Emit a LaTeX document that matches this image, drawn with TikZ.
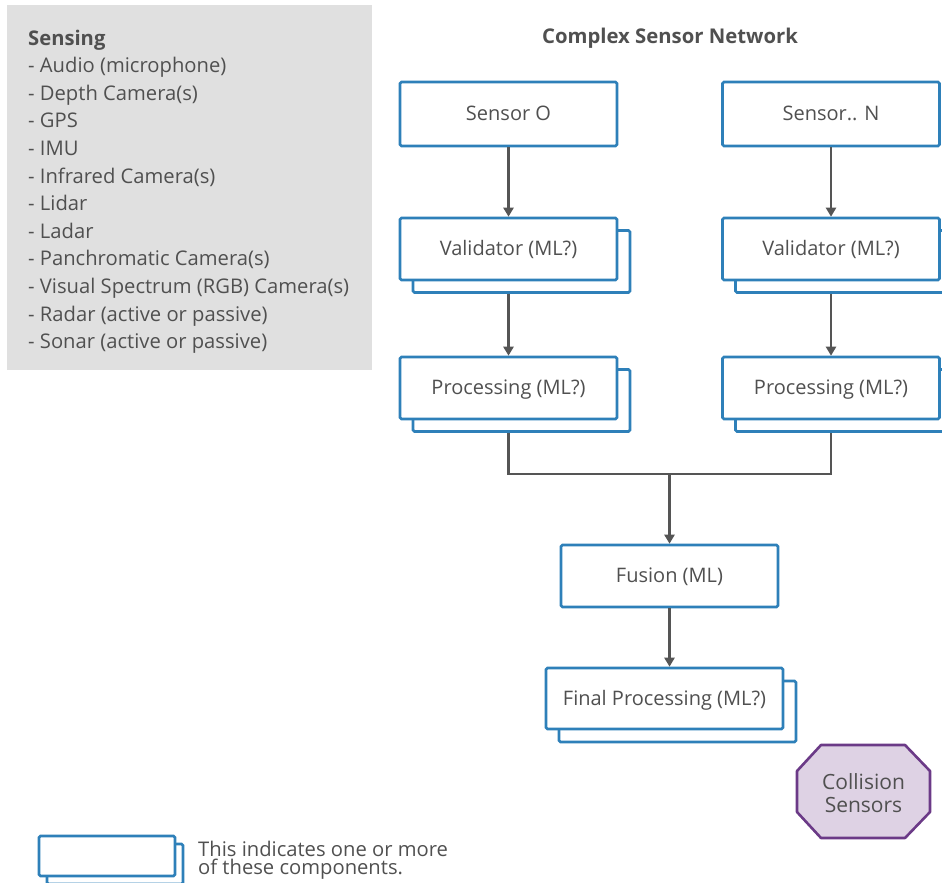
\documentclass[tikz,border=0pt]{standalone}
\usepackage{fontspec}
\setmainfont{Open Sans}
\usetikzlibrary{arrows.meta}

\definecolor{boxblue}{HTML}{2E80B9}
\definecolor{txtgray}{HTML}{505050}
\definecolor{linegray}{HTML}{555555}
\definecolor{panelgray}{HTML}{E0E0E0}
\definecolor{octfill}{HTML}{DED2E4}
\definecolor{octdraw}{HTML}{6B3A87}

\tikzset{
  comp/.style={draw=boxblue, line width=2.6pt, fill=white, rounded corners=1.5pt,
    inner sep=0pt, text=txtgray, font=\fontsize{20}{24}\selectfont,
    text height=16.5pt, text depth=3pt},
  wide/.style={minimum width=217pt, minimum height=62pt},
  conn/.style={draw=linegray, line width=2.3pt, -{Triangle[length=9pt,width=10pt]}},
  plain/.style={draw=linegray, line width=2.3pt},
}

\begin{document}
\begin{tikzpicture}[x=1pt,y=-1pt]
\useasboundingbox (0,0) rectangle (942,883);

% sensing panel
\node[fill=panelgray, minimum width=365pt, minimum height=365pt, inner sep=0pt] (panel) at (189.5,187.5) {};
\node[anchor=north west, inner sep=0pt, align=left, text=txtgray,
      font=\fontsize{20.2}{27.6}\selectfont] (sensing) at (28,29.5)
  {\textbf{Sensing}\\
   - Audio (microphone)\\
   - Depth Camera(s)\\
   - GPS\\
   - IMU\\
   - Infrared Camera(s)\\
   - Lidar\\
   - Ladar\\
   - Panchromatic Camera(s)\\
   - Visual Spectrum (RGB) Camera(s)\\
   - Radar (active or passive)\\
   - Sonar (active or passive)};

% title
\node[text=txtgray, font=\fontsize{20.3}{24}\selectfont\bfseries] (title) at (670,38.5) {Complex Sensor Network};

% sensors
\node[comp, wide, minimum height=64pt] (s0) at (508.5,114) {Sensor O};
\node[comp, wide, minimum height=64pt] (sn) at (831,114) {Sensor.. N};

% validators (stacked)
\node[comp, wide] (v0b) at (521.5,261.5) {};
\node[comp, wide] (v0) at (508.5,249) {Validator (ML?)};
\node[comp, wide] (vnb) at (844,261.5) {};
\node[comp, wide] (vn) at (831,249) {Validator (ML?)};

% processing (stacked)
\node[comp, wide] (p0b) at (521.5,400.5) {};
\node[comp, wide] (p0) at (508.5,388) {Processing (ML?)};
\node[comp, wide] (pnb) at (844,400.5) {};
\node[comp, wide] (pn) at (831,388) {Processing (ML?)};

% fusion
\node[comp, wide] (fu) at (669.5,576) {Fusion (ML)};

% final processing (stacked)
\node[comp, minimum width=237pt, minimum height=61pt] (fpb) at (677.5,711.5) {};
\node[comp, minimum width=237pt, minimum height=61pt] (fp) at (664.5,698.5) {Final Processing (ML?)};

% collision sensors
\draw[fill=octfill, draw=octdraw, line width=2.6pt, line join=round]
  (821,745) -- (905,745) -- (930,771) -- (930,812) -- (905,838) -- (821,838) -- (797,812) -- (797,771) -- cycle;
\node[align=center, text=txtgray, font=\fontsize{21}{23}\selectfont] (coll) at (863.5,793.5) {Collision\\Sensors};

% connectors
\draw[conn] (s0) -- (v0);
\draw[conn] (sn) -- (vn);
\draw[conn] (v0.south |- v0b.south) -- (p0);
\draw[conn] (vn.south |- vnb.south) -- (pn);
\coordinate (merge) at (669.5,474);
\draw[plain] (p0.south |- p0b.south) |- (merge) -| (pn.south |- pnb.south);
\draw[conn] (merge) -- (fu);
\draw[conn] (fu.south) -- (fu.south |- fp.north);

% legend
\node[comp, minimum width=136pt, minimum height=40pt] (lgb) at (115,864) {};
\node[comp, minimum width=136pt, minimum height=40pt] (lg) at (107,856) {};
\node[anchor=north west, inner sep=0pt, align=left, text=txtgray,
      font=\fontsize{20.2}{18.5}\selectfont] (lgtext) at (198,840.5)
  {This indicates one or more\\of these components.};
\end{tikzpicture}
\end{document}
